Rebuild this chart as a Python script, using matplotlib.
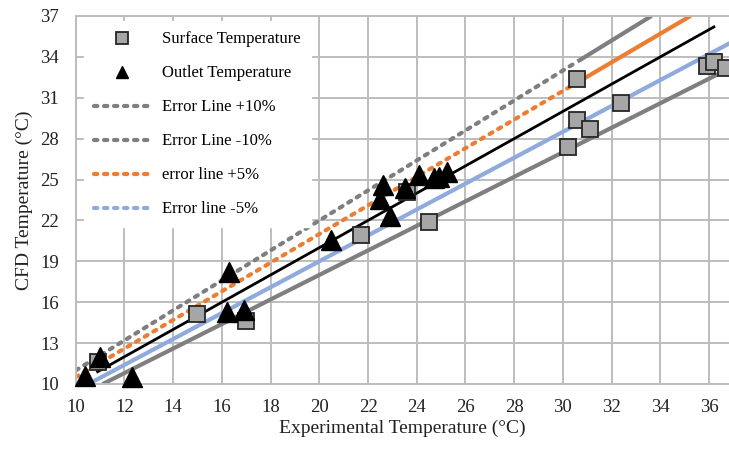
import numpy as np
import matplotlib.pyplot as plt
from matplotlib.lines import Line2D

plt.rcParams['font.family'] = ['Liberation Serif', 'DejaVu Serif']

# ── Data ──
surface_x = [10.9, 15.0, 17.0, 21.7, 23.6, 24.5, 30.2, 30.6, 30.6, 31.1, 32.4, 35.9, 36.2, 36.7]
surface_y = [11.6, 15.1, 14.6, 20.9, 24.1, 21.9, 27.4, 32.4, 29.4, 28.7, 30.6, 33.3, 33.6, 33.2]

outlet_x = [10.4, 11.0, 12.3, 16.3, 16.2, 16.9, 20.5, 22.5, 22.6, 22.9, 23.5, 24.1, 24.7, 24.9, 25.25]
outlet_y = [10.6, 12.0, 10.5, 18.2, 15.3, 15.4, 20.6, 23.6, 24.6, 22.3, 24.4, 25.3, 25.1, 25.2, 25.55]

# error lines: factor, x start, x end, x where dotted turns solid
err_factor = [1.10, 0.90, 1.05, 0.95]
err_x0 = [10.0, 11.1, 10.0, 10.5]
err_x1 = [33.64, 36.5, 35.24, 37.0]
err_split = [30.6, 11.1, 30.6, 10.5]
err_labels = ['Error Line +10%', 'Error Line -10%', 'error line +5%', 'Error line -5%']
err_colors = ['#7f7f7f', '#7f7f7f', '#ed7d31', '#8faadc']

ideal_x = [10.9, 36.2]

xticks = np.arange(10, 37, 2)
yticks = np.arange(10, 38, 3)

W, H = 729, 450
fig = plt.figure(figsize=(W / 100, H / 100), dpi=100)
ax = fig.add_axes([75.7 / W, (H - 384) / H, (W - 75.7) / W, (384 - 16) / H])

ax.set_xlim(10, 36.82)
ax.set_ylim(10, 37)
ax.set_xticks(xticks)
ax.set_yticks(yticks)
ax.grid(True, color='#bdbdbd', linewidth=1.4, zorder=0)
ax.set_axisbelow(True)
for s in ax.spines.values():
    s.set_color('#bdbdbd')
    s.set_linewidth(1.4)
ax.spines['right'].set_visible(False)
ax.tick_params(axis='both', length=0, labelsize=13.5, colors='#222222')
ax.tick_params(axis='x', pad=11)
ax.tick_params(axis='y', pad=12)

# ── error lines ──
for f, x0, x1, xs, c in zip(err_factor, err_x0, err_x1, err_split, err_colors):
    if xs > x0:
        ax.plot([x0, xs], [f * x0, f * xs], color=c, linewidth=3,
                linestyle=(0, (0.8, 1.6)), dash_capstyle='round', zorder=2)
    ax.plot([xs, x1], [f * xs, f * x1], color=c, linewidth=3,
            solid_capstyle='butt', zorder=2)

# ── ideal line y = x ──
ax.plot(ideal_x, ideal_x, color='black', linewidth=2, zorder=3)

# ── scatter ──
ax.plot(surface_x, surface_y, linestyle='none', marker='s', markersize=11.5,
        markerfacecolor='#a6a6a6', markeredgecolor='#262626', markeredgewidth=1.3,
        zorder=4, clip_on=False)
ax.plot(outlet_x, outlet_y, linestyle='none', marker='^', markersize=14,
        color='black', zorder=5, clip_on=False)

ax.set_xlabel('Experimental Temperature (°C)', fontsize=14, color='#222222')
ax.set_ylabel('CFD Temperature (°C)', fontsize=14, color='#222222')
ax.xaxis.set_label_coords(0.5, -0.096)
ax.yaxis.set_label_coords(-0.066, 0.5)

# ── legend ──
handles = [
    Line2D([], [], linestyle='none', marker='s', markersize=8,
           markerfacecolor='#a6a6a6', markeredgecolor='#262626', markeredgewidth=1.3),
    Line2D([], [], linestyle='none', marker='^', markersize=9, color='black'),
]
labels = ['Surface Temperature', 'Outlet Temperature']
for lab, c in zip(err_labels, err_colors):
    handles.append(Line2D([], [], color=c, linewidth=3, linestyle=(0, (0.8, 1.6)),
                          dash_capstyle='round'))
    labels.append(lab)

leg = ax.legend(handles, labels, loc='upper left', bbox_to_anchor=(0.0, 1.008),
                fontsize=12, frameon=True, fancybox=False, framealpha=1,
                edgecolor='white', handlelength=3.35, handletextpad=0.75,
                labelspacing=1.08, borderpad=0.6, borderaxespad=0.5)
leg.set_zorder(6)

fig.savefig('out.png', dpi=100)
